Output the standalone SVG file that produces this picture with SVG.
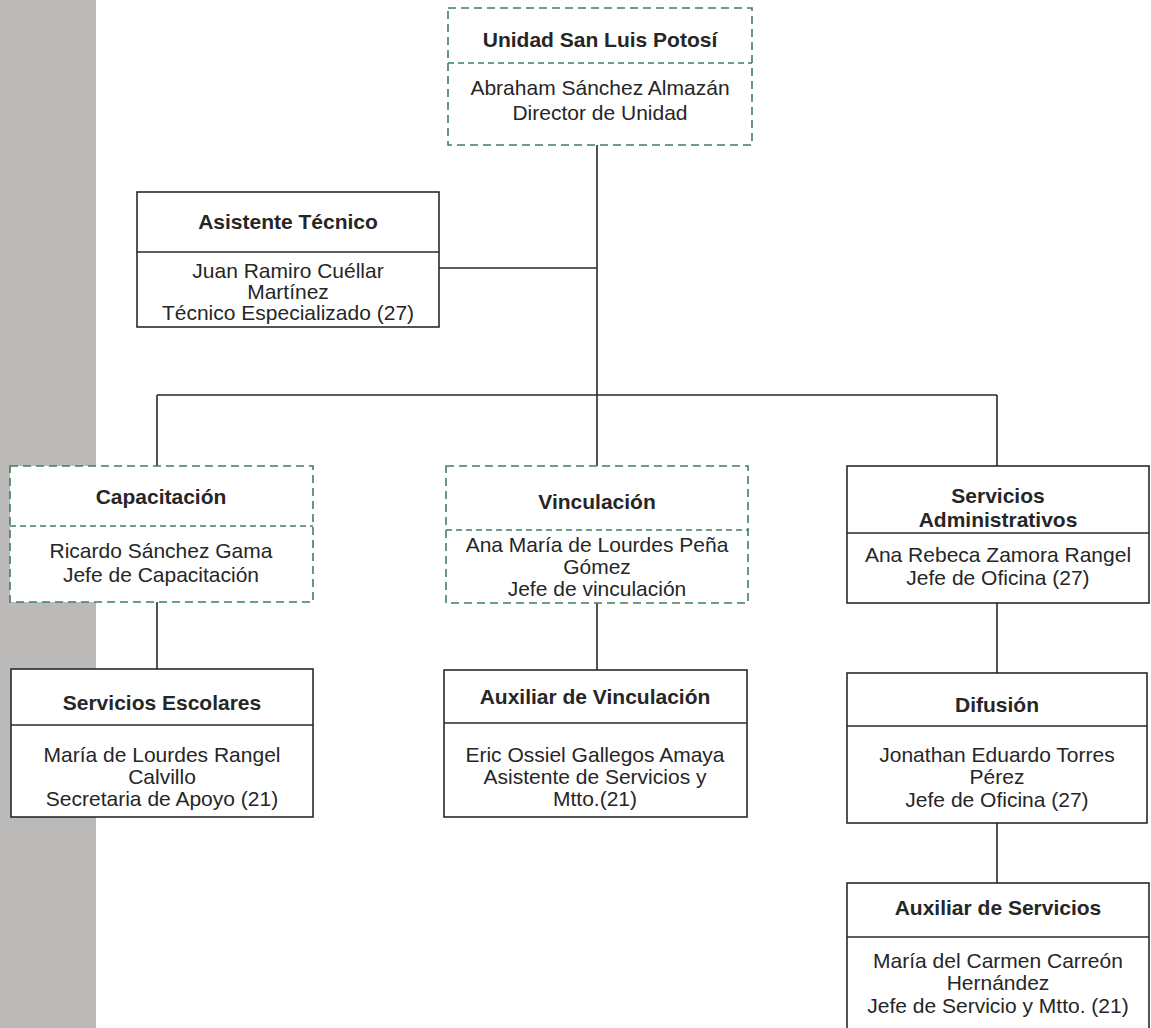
<svg xmlns="http://www.w3.org/2000/svg" width="1151" height="1028" viewBox="0 0 1151 1028">
<style>
.box{fill:#fff;stroke:#2a2a2a;stroke-width:1.6}
.dbox{fill:#fff;stroke:#3f7d62;stroke-width:1.6;stroke-dasharray:8 5}
.div{stroke:#2a2a2a;stroke-width:1.6}
.ddiv{stroke:#3f7d62;stroke-width:1.4;stroke-dasharray:6 4}
.t{font-family:"Liberation Sans",Arial,sans-serif;font-size:21px;font-weight:bold;fill:#262626;text-anchor:middle}
.b{font-family:"Liberation Sans",Arial,sans-serif;font-size:21px;fill:#262626;text-anchor:middle}
.c{stroke:#2a2a2a;stroke-width:1.6;fill:none}
</style>
<rect x="0" y="0" width="1151" height="1028" fill="#fff"/>
<rect x="0" y="0" width="96" height="1028" fill="#bcb9b9"/>
<g id="connectors">
<path class="c" d="M597 145V395M439 268H597M157 395H997M157 395V466M597 395V466M997 395V466M157 602V669M597 603V670M997 603V673M997 823V883"/>
</g>
<g id="n-unidad">
<rect class="dbox" x="448" y="8" width="304" height="137"/>
<line class="ddiv" x1="448" y1="63" x2="752" y2="63"/>
<text class="t" x="600" y="47">Unidad San Luis Potosí</text>
<text class="b" x="600" y="95">Abraham Sánchez Almazán</text>
<text class="b" x="600" y="120">Director de Unidad</text>
</g>
<g id="n-asistente">
<rect class="box" x="137" y="192" width="302" height="135"/>
<line class="div" x1="137" y1="252" x2="439" y2="252"/>
<text class="t" x="288" y="229">Asistente Técnico</text>
<text class="b" x="288" y="278">Juan Ramiro Cuéllar</text>
<text class="b" x="288" y="299">Martínez</text>
<text class="b" x="288" y="320">Técnico Especializado (27)</text>
</g>
<g id="n-capacitacion">
<rect class="dbox" x="10" y="466" width="303" height="136"/>
<line class="ddiv" x1="10" y1="526" x2="313" y2="526"/>
<text class="t" x="161" y="504">Capacitación</text>
<text class="b" x="161" y="558">Ricardo Sánchez Gama</text>
<text class="b" x="161" y="582">Jefe de Capacitación</text>
</g>
<g id="n-vinculacion">
<rect class="dbox" x="446" y="466" width="302" height="137"/>
<line class="ddiv" x1="446" y1="530" x2="748" y2="530"/>
<text class="t" x="597" y="509">Vinculación</text>
<text class="b" x="597" y="552">Ana María de Lourdes Peña</text>
<text class="b" x="597" y="574">Gómez</text>
<text class="b" x="597" y="596">Jefe de vinculación</text>
</g>
<g id="n-servadmin">
<rect class="box" x="847" y="466" width="302" height="137"/>
<line class="div" x1="847" y1="533" x2="1149" y2="533"/>
<text class="t" x="998" y="503">Servicios</text>
<text class="t" x="998" y="527">Administrativos</text>
<text class="b" x="998" y="562">Ana Rebeca Zamora Rangel</text>
<text class="b" x="998" y="585">Jefe de Oficina (27)</text>
</g>
<g id="n-servescolares">
<rect class="box" x="11" y="669" width="302" height="148"/>
<line class="div" x1="11" y1="725" x2="313" y2="725"/>
<text class="t" x="162" y="710">Servicios Escolares</text>
<text class="b" x="162" y="762">María de Lourdes Rangel</text>
<text class="b" x="162" y="784">Calvillo</text>
<text class="b" x="162" y="806">Secretaria de Apoyo (21)</text>
</g>
<g id="n-auxvinc">
<rect class="box" x="444" y="670" width="303" height="147"/>
<line class="div" x1="444" y1="723" x2="747" y2="723"/>
<text class="t" x="595" y="704">Auxiliar de Vinculación</text>
<text class="b" x="595" y="762">Eric Ossiel Gallegos Amaya</text>
<text class="b" x="595" y="784">Asistente de Servicios y</text>
<text class="b" x="595" y="806">Mtto.(21)</text>
</g>
<g id="n-difusion">
<rect class="box" x="847" y="673" width="300" height="150"/>
<line class="div" x1="847" y1="726" x2="1147" y2="726"/>
<text class="t" x="997" y="712">Difusión</text>
<text class="b" x="997" y="762">Jonathan Eduardo Torres</text>
<text class="b" x="997" y="784">Pérez</text>
<text class="b" x="997" y="807">Jefe de Oficina (27)</text>
</g>
<g id="n-auxserv">
<rect class="box" x="847" y="883" width="302" height="160"/>
<line class="div" x1="847" y1="937" x2="1149" y2="937"/>
<text class="t" x="998" y="915">Auxiliar de Servicios</text>
<text class="b" x="998" y="968">María del Carmen Carreón</text>
<text class="b" x="998" y="990">Hernández</text>
<text class="b" x="998" y="1013">Jefe de Servicio y Mtto. (21)</text>
</g>
</svg>
